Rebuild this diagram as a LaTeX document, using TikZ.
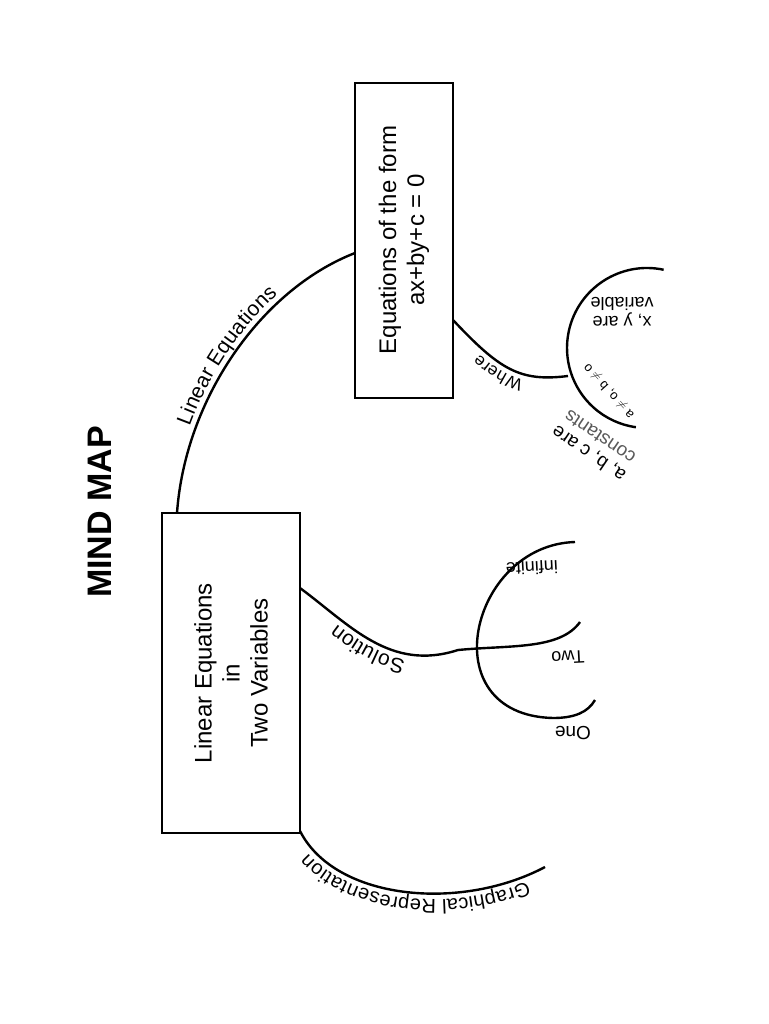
\documentclass[tikz,border=0pt]{standalone}
\usepackage{fontspec}
\setmainfont{Liberation Sans}
\usetikzlibrary{decorations.text}
\begin{document}
\begin{tikzpicture}[x=1pt,y=-1pt,
  con/.style={line width=2.4pt},
  box/.style={draw,line width=2.4pt},
  big/.style={font=\fontsize{24}{28}\selectfont,align=center},
  along/.style={decorate,decoration={text along path,text align=center,raise=#1}}]
\useasboundingbox (0,0) rectangle (768,1024);
\node[font=\bfseries\fontsize{34}{36}\selectfont,rotate=90] (title) at (100,512) {MIND MAP};
\node[box,minimum width=138pt,minimum height=320pt] (b1) at (231,673) {};
\node[big,rotate=90] (t1) at (231,673) {Linear Equations\\in\\Two Variables};
\node[box,minimum width=98pt,minimum height=315pt] (b2) at (404,240.5) {};
\node[big,rotate=90] (t2) at (404,240) {Equations of the form\\ax+by+c = 0};
% Linear Equations
\coordinate (le0) at (177,513);
\coordinate (le1) at (355,253);
\draw[con] (le0) .. controls (185,400) and (260,290) .. (le1);
\path[along=6pt,decoration={text={|\fontsize{21}{23}\selectfont|Linear Equations}}]
  (le0) .. controls (185,400) and (260,290) .. (le1);
% Where
\coordinate (w0) at (453,320);
\coordinate (w1) at (568,376);
\draw[con] (w0) .. controls (500,370) and (520,382) .. (w1);
\path[along=6pt,decoration={text={|\fontsize{17}{19}\selectfont|Where}}]
  (w1) .. controls (520,382) and (500,370) .. (w0);
\coordinate (wc) at (647,348);
\draw[con] (wc) ++(-78:80) arc[start angle=-78,end angle=-262,radius=80];
\node[rotate=180,align=center,font=\fontsize{18}{19}\selectfont] (xy) at (622,312) {x, y are\\variable};
\node[rotate=132,font=\fontsize{13}{15}\selectfont] (ab) at (609,391) {a $\neq$ o, b $\neq$ o};
\node[rotate=146,align=center,font=\fontsize{19}{20}\selectfont] (abc) at (594,446) {a, b, c are\\\textcolor{black!65}{constants}};
% Solution
\coordinate (s0) at (300,588);
\coordinate (sj) at (458,650);
\draw[con] (s0) .. controls (350,625) and (390,672) .. (sj);
\path[along=6pt,decoration={text={|\fontsize{21}{23}\selectfont|Solution}}]
  (sj) .. controls (390,672) and (350,625) .. (s0);
\coordinate (two) at (580,622);
\draw[con] (sj) .. controls (510,645) and (560,650) .. (two);
\coordinate (inf) at (575,542);
\coordinate (one) at (595,700);
\draw[con] (inf) .. controls (470,545) and (430,715) .. (553,718) .. controls (575,718) and (588,712) .. (one);
\node[rotate=183,font=\fontsize{18}{20}\selectfont] (linf) at (532,568) {infinite};
\node[rotate=183,font=\fontsize{18}{20}\selectfont] (ltwo) at (568,657) {Two};
\node[rotate=180,font=\fontsize{19}{21}\selectfont] (lone) at (573,733) {One};
% Graphical Representation
\coordinate (g0) at (300,831);
\coordinate (g1) at (545,867);
\draw[con] (g0) .. controls (335,900) and (460,912) .. (g1);
\path[along=6pt,decoration={text={|\fontsize{20}{22}\selectfont|Graphical Representation}}]
  (g1) .. controls (460,912) and (335,900) .. (g0);
\end{tikzpicture}
\end{document}
